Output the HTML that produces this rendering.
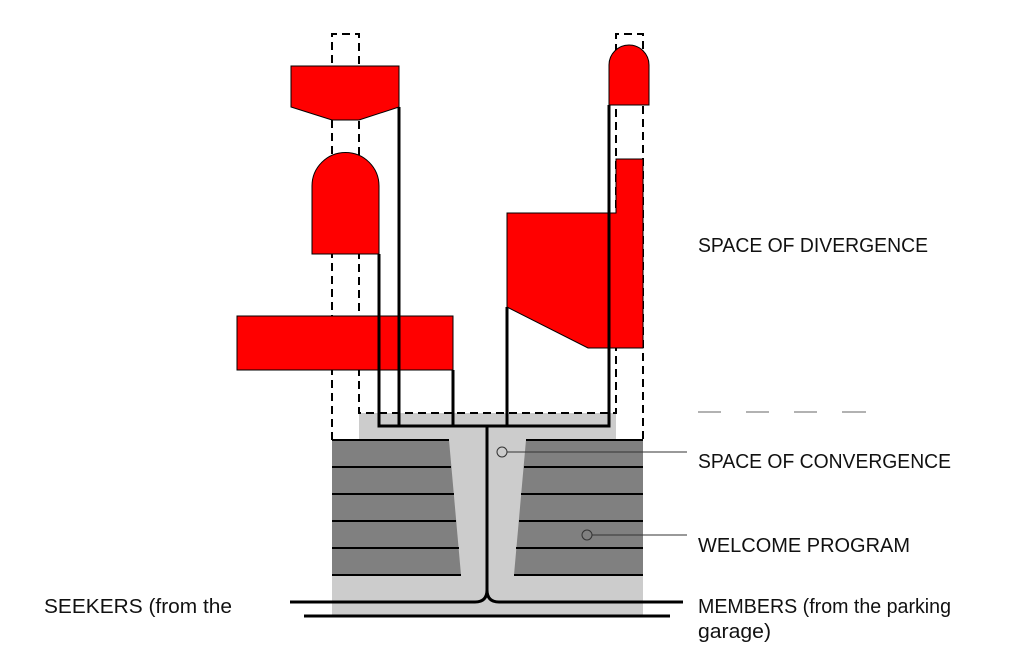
<!DOCTYPE html>
<html><head><meta charset="utf-8"><style>html,body{margin:0;padding:0;background:#fff}svg{display:block}</style></head>
<body>
<svg width="1024" height="649" viewBox="0 0 1024 649" xmlns="http://www.w3.org/2000/svg" font-family="Liberation Sans, sans-serif" font-size="20">
<rect width="1024" height="649" fill="#fff"/>
<path d="M359 413 H616 V440 H643 V615 H332 V440 H359 Z" fill="#cccccc"/>
<polygon points="332,440 449,440 461,575 332,575" fill="#808080"/>
<polygon points="526,440 643,440 643,575 514,575" fill="#808080"/>
<g stroke="#000" stroke-width="2">
<line x1="332" y1="440" x2="449" y2="440"/><line x1="526" y1="440" x2="643" y2="440"/>
<line x1="332" y1="467" x2="451" y2="467"/><line x1="524" y1="467" x2="643" y2="467"/>
<line x1="332" y1="494" x2="454" y2="494"/><line x1="521" y1="494" x2="643" y2="494"/>
<line x1="332" y1="521" x2="456" y2="521"/><line x1="519" y1="521" x2="643" y2="521"/>
<line x1="332" y1="548" x2="459" y2="548"/><line x1="516" y1="548" x2="643" y2="548"/>
<line x1="332" y1="575" x2="461" y2="575"/><line x1="514" y1="575" x2="643" y2="575"/>
</g>
<g fill="none" stroke="#000" stroke-width="2" stroke-dasharray="8,5">
<path d="M332 440 V34 H359 V413 H616 V34 H643 V440"/>
</g>
<g fill="#ff0000" stroke="#000" stroke-width="1">
<polygon points="291,66 399,66 399,107 359,120 332,120 291,107"/>
<path d="M312 254 V186 A33 33 0 0 1 379 186 V254 Z"/>
<rect x="237" y="316" width="216" height="54"/>
<path d="M609 105 V65 A20 20 0 0 1 649 65 V105 Z"/>
<polygon points="616,159 643,159 643,348 588,348 507,307 507,213 616,213"/>
</g>
<g fill="none" stroke="#000" stroke-width="3">
<path d="M379 254 V426 H609 V105"/>
<line x1="399" y1="107" x2="399" y2="426"/>
<line x1="453" y1="370" x2="453" y2="426"/>
<line x1="507" y1="307" x2="507" y2="426"/>
<path d="M487 426 V590 Q487 602 475 602 H290"/>
<path d="M487 590 Q487 602 499 602 H683"/>
<line x1="304" y1="616" x2="670" y2="616"/>
</g>
<g stroke="#333" stroke-width="1" fill="none">
<circle cx="502" cy="452" r="5"/><line x1="507" y1="452" x2="687" y2="452"/>
<circle cx="587" cy="535" r="5"/><line x1="592" y1="535" x2="687" y2="535"/>
</g>
<g stroke="#999" stroke-width="1.5">
<line x1="698" y1="412" x2="721" y2="412"/><line x1="746" y1="412" x2="769" y2="412"/>
<line x1="794" y1="412" x2="817" y2="412"/><line x1="842" y1="412" x2="866" y2="412"/>
</g>
<g fill="#111">
<text x="698" y="252" textLength="230" lengthAdjust="spacingAndGlyphs">SPACE OF DIVERGENCE</text>
<text x="698" y="468" textLength="253" lengthAdjust="spacingAndGlyphs">SPACE OF CONVERGENCE</text>
<text x="698" y="552" textLength="212" lengthAdjust="spacingAndGlyphs">WELCOME PROGRAM</text>
<text x="698" y="613" textLength="253" lengthAdjust="spacingAndGlyphs">MEMBERS (from the parking</text>
<text x="698" y="638" textLength="73" lengthAdjust="spacingAndGlyphs">garage)</text>
<text x="44" y="613" textLength="188" lengthAdjust="spacingAndGlyphs">SEEKERS (from the</text>
</g>
</svg>
</body></html>
